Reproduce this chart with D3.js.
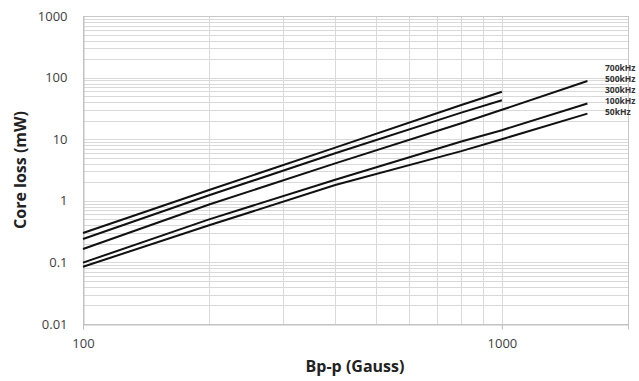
<!DOCTYPE html>
<html>
<head>
<meta charset="utf-8">
<script src="https://cdn.jsdelivr.net/npm/d3@7"></script>
<style>
  body { margin: 0; background: #fff; }
  svg text { font-family: "Open Sans", "Liberation Sans", sans-serif; }
</style>
</head>
<body>
<div id="chart"></div>
<script>
// readings (log-log)
var fluxX = [100, 200, 400, 800, 1000, 1600];
var seriesNames = ["700kHz", "500kHz", "300kHz", "100kHz", "50kHz"];
var loss700 = [0.30, 1.5, 7.3, 36, 59];
var loss500 = [0.24, 1.23, 5.9, 27, 43];
var loss300 = [0.165, 0.87, 4.05, 18.2, 30, 88];
var loss100 = [0.099, 0.5, 2.2, 9.2, 14, 38];
var loss50 = [0.085, 0.4, 1.8, 6.4, 10, 26];
var yTicks = [0.01, 0.1, 1, 10, 100, 1000];
var xTicks = [100, 1000];

var width = 639, height = 381;
var margin = { top: 16, right: 11, bottom: 57, left: 83 };
var innerW = width - margin.left - margin.right;
var innerH = height - margin.top - margin.bottom;

var svg = d3.select("#chart").append("svg")
    .attr("width", width)
    .attr("height", height);

var g = svg.append("g")
    .attr("transform", "translate(" + margin.left + "," + margin.top + ")");

var x = d3.scaleLog().domain([100, 2000]).range([0, innerW]);
var y = d3.scaleLog().domain([0.01, 1000]).range([innerH, 0]);

// horizontal gridlines (major + minor)
var yGrid = [];
for (var e = -2; e < 3; e++) {
    for (var k = 1; k < 10; k++) yGrid.push(k * Math.pow(10, e));
}
yGrid.push(1000);
g.selectAll(".hgrid")
    .data(yGrid)
    .enter().append("line")
    .attr("x1", 0).attr("x2", innerW)
    .attr("y1", function (d) { return Math.round(y(d)) + 0.5; })
    .attr("y2", function (d) { return Math.round(y(d)) + 0.5; })
    .attr("stroke", "#d9d9d9")
    .attr("stroke-width", 1);

// vertical gridlines only inside the 100-1000 decade
var xGrid = [200, 300, 400, 500, 600, 700, 800, 900, 1000];
g.selectAll(".vgrid")
    .data(xGrid)
    .enter().append("line")
    .attr("x1", function (d) { return Math.round(x(d)) + 0.5; })
    .attr("x2", function (d) { return Math.round(x(d)) + 0.5; })
    .attr("y1", 0).attr("y2", innerH)
    .attr("stroke", "#d9d9d9")
    .attr("stroke-width", 1);

// frame
g.append("rect")
    .attr("x", 0.5).attr("y", 0.5)
    .attr("width", innerW).attr("height", innerH)
    .attr("fill", "none")
    .attr("stroke", "#c8c8c8");

// axes
var xAxis = d3.axisBottom(x).tickValues(xTicks).tickFormat(d3.format("d")).tickSize(5).tickPadding(9);
var gx = g.append("g")
    .attr("transform", "translate(0," + (innerH + 0.5) + ")")
    .call(xAxis);
gx.select(".domain").attr("stroke", "#bfbfbf");
gx.selectAll(".tick line").attr("stroke", "#bfbfbf");
gx.selectAll("text").attr("fill", "#404040").style("font-size", "13px");

var yAxis = d3.axisLeft(y).tickValues(yTicks)
    .tickFormat(function (d) { return d < 1 ? d3.format(".2~f")(d) : d3.format("d")(d); })
    .tickSize(0).tickPadding(16);
var gy = g.append("g")
    .attr("transform", "translate(0.5,0)")
    .call(yAxis);
gy.select(".domain").attr("stroke", "#bfbfbf");
gy.selectAll("text").attr("fill", "#404040").style("font-size", "13px");

// series lines
var allSeries = [loss700, loss500, loss300, loss100, loss50];
var line = d3.line()
    .x(function (d, i) { return x(fluxX[i]); })
    .y(function (d) { return y(d); });

g.selectAll(".series")
    .data(allSeries)
    .enter().append("path")
    .attr("d", function (d) { return line(d); })
    .attr("fill", "none")
    .attr("stroke", "#111")
    .attr("stroke-width", 2);

// series labels at the right
var labelY = [68, 79, 90, 101, 112];
svg.selectAll(".slabel")
    .data(seriesNames)
    .enter().append("text")
    .attr("x", 605)
    .attr("y", function (d, i) { return labelY[i]; })
    .attr("dy", "0.35em")
    .attr("fill", "#333")
    .style("font-size", "8.5px")
    .style("font-weight", "bold")
    .text(function (d) { return d; });

// axis titles
svg.append("text")
    .attr("transform", "translate(26," + (margin.top + innerH / 2) + ") rotate(-90)")
    .attr("text-anchor", "middle")
    .attr("fill", "#222")
    .style("font-size", "16px")
    .style("font-weight", "bold")
    .text("Core loss (mW)");

svg.append("text")
    .attr("x", 355)
    .attr("y", 372)
    .attr("text-anchor", "middle")
    .attr("fill", "#222")
    .style("font-size", "16px")
    .style("font-weight", "bold")
    .text("Bp-p (Gauss)");
</script>
</body>
</html>
